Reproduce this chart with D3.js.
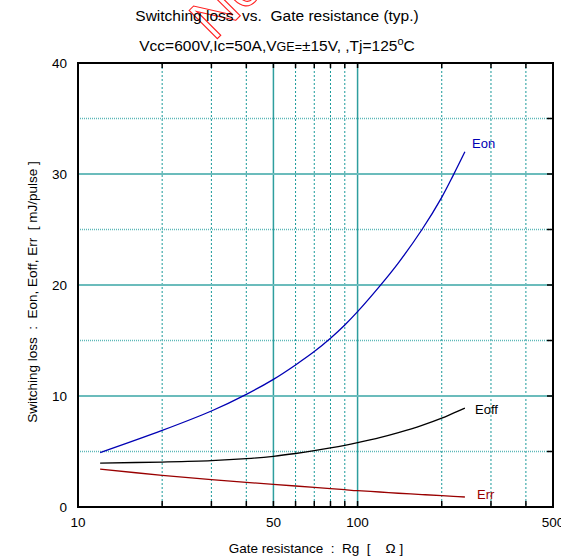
<!DOCTYPE html>
<html><head><meta charset="utf-8">
<script src="https://cdn.jsdelivr.net/npm/d3@7"></script>
<style>
body{margin:0;background:#fff;}
text{font-family:"Liberation Sans",Arial,sans-serif;white-space:pre;}
</style></head>
<body>
<svg id="c" width="561" height="556"></svg>
<script>
const rg   = [12, 20, 30, 40, 50, 60, 70, 80, 90, 100, 120, 140, 170, 200, 220, 242];
const eon  = [4.9, 6.9, 8.65, 10.15, 11.5, 12.8, 14.0, 15.2, 16.4, 17.6, 19.9, 22.0, 25.0, 27.9, 29.9, 32.0];
const eoff = [3.96, 4.05, 4.17, 4.35, 4.57, 4.82, 5.07, 5.32, 5.56, 5.8, 6.25, 6.7, 7.35, 8.0, 8.45, 8.9];
const err  = [3.42, 2.85, 2.46, 2.22, 2.04, 1.89, 1.77, 1.66, 1.56, 1.47, 1.35, 1.24, 1.12, 1.02, 0.96, 0.9];
const xTickLabels = [10, 50, 100, 500];
const yTickLabels = [0, 10, 20, 30, 40];
const xGridMinor = [20, 30, 40, 60, 70, 80, 90, 200, 300, 400];
const xGridMajor = [50, 100];
const yGridMajor = [10, 20, 30];
const yGridMinor = [5, 15, 25, 35];
const seriesNames = ["Eon", "Eoff", "Err"];

const svg = d3.select("#c");
const L = 78, R = 553, T = 63, B = 507;
const x = d3.scaleLog().domain([10, 500]).range([L, R]);
const y = d3.scaleLinear().domain([0, 40]).range([B, T]);

// watermark
svg.append("text").attr("transform", "translate(214,42) rotate(-45)")
  .attr("font-size", 58).attr("fill", "none").attr("stroke", "#ff2020").attr("stroke-width", 1.1)
  .text("No");

// grid
const g = svg.append("g");
g.selectAll(".vmin").data(xGridMinor).join("line")
  .attr("x1", d => x(d)).attr("x2", d => x(d)).attr("y1", T).attr("y2", B)
  .attr("stroke", "#1a9a9a").attr("stroke-width", 1).attr("stroke-dasharray", "2,2");
g.selectAll(".vmaj").data(xGridMajor).join("line")
  .attr("x1", d => x(d)).attr("x2", d => x(d)).attr("y1", T).attr("y2", B)
  .attr("stroke", "#2e9e9e").attr("stroke-width", 1.5);
g.selectAll(".hmin").data(yGridMinor).join("line")
  .attr("x1", L).attr("x2", R).attr("y1", d => y(d)).attr("y2", d => y(d))
  .attr("stroke", "#5cb8b8").attr("stroke-width", 1.3).attr("stroke-dasharray", "1,1");
g.selectAll(".hmaj").data(yGridMajor).join("line")
  .attr("x1", L).attr("x2", R).attr("y1", d => y(d)).attr("y2", d => y(d))
  .attr("stroke", "#6bbcbc").attr("stroke-width", 2);

// ticks (inward)
const allX = xGridMinor.concat(xGridMajor);
g.selectAll(".tb").data(allX).join("line")
  .attr("x1", d => x(d)).attr("x2", d => x(d)).attr("y1", B).attr("y2", B - 6)
  .attr("stroke", "#000").attr("stroke-width", 1.5);
g.selectAll(".tt").data(allX).join("line")
  .attr("x1", d => x(d)).attr("x2", d => x(d)).attr("y1", T).attr("y2", T + 5)
  .attr("stroke", "#000").attr("stroke-width", 1.5);
g.selectAll(".tr").data(yGridMinor.concat(yGridMajor)).join("line")
  .attr("x1", R).attr("x2", R - 6).attr("y1", d => y(d)).attr("y2", d => y(d))
  .attr("stroke", "#000").attr("stroke-width", 1.5);

// frame
svg.append("rect").attr("x", L).attr("y", T).attr("width", R - L).attr("height", B - T)
  .attr("fill", "none").attr("stroke", "#000").attr("stroke-width", 2);

// tick labels
svg.selectAll(".xl").data(xTickLabels).join("text")
  .attr("x", d => x(d)).attr("y", 527).attr("text-anchor", "middle")
  .attr("font-size", 13.5).text(d => d);
svg.selectAll(".yl").data(yTickLabels).join("text")
  .attr("x", 67).attr("y", d => y(d) + 5).attr("text-anchor", "end")
  .attr("font-size", 13.5).text(d => d);

// curves
const line = d3.line().x(d => x(d[0])).y(d => y(d[1])).curve(d3.curveCatmullRom);
const series = [eon, eoff, err];
const colors = ["#0000b4", "#000000", "#990000"];
series.forEach((s, i) => {
  svg.append("path").datum(rg.map((r, j) => [r, s[j]]))
    .attr("d", line).attr("fill", "none").attr("stroke", colors[i]).attr("stroke-width", 1.3);
});
const labelPos = [[472, 148], [475, 414], [477, 499]];
seriesNames.forEach((n, i) => {
  svg.append("text").attr("x", labelPos[i][0]).attr("y", labelPos[i][1])
    .attr("font-size", 13).attr("fill", colors[i]).text(n);
});

// titles
svg.append("text").attr("x", 277).attr("y", 21).attr("text-anchor", "middle")
  .attr("font-size", 15.5).text("Switching loss  vs.  Gate resistance (typ.)");
const t2 = svg.append("text").attr("x", 277).attr("y", 51).attr("text-anchor", "middle").attr("font-size", 15.5);
t2.append("tspan").text("Vcc=600V,Ic=50A,V");
t2.append("tspan").attr("font-size", 12.5).text("GE=");
t2.append("tspan").text("±15V, ,Tj=125");
t2.append("tspan").attr("font-size", 11).attr("dy", -6).text("o");
t2.append("tspan").attr("dy", 6).text("C");

svg.append("text").attr("x", 316).attr("y", 553).attr("text-anchor", "middle")
  .attr("font-size", 13.5).text("Gate resistance  :  Rg  [    Ω ]");
svg.append("text").attr("transform", "translate(37,292) rotate(-90)").attr("text-anchor", "middle")
  .attr("font-size", 13.5).text("Switching loss  :  Eon, Eoff, Err  [ mJ/pulse ]");
</script>
</body></html>
